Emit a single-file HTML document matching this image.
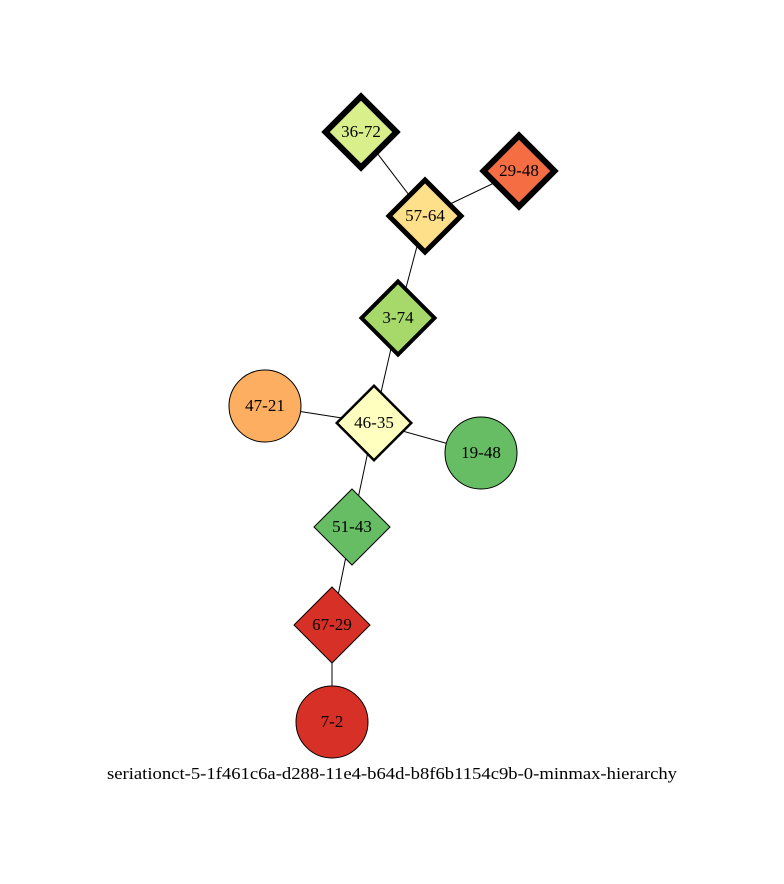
<!DOCTYPE html>
<html><head><meta charset="utf-8"><style>
html,body{margin:0;padding:0;background:#fff;width:784px;height:884px;overflow:hidden}
svg text{font-family:"Liberation Serif",serif;font-size:17px}
</style></head><body>
<svg id="g" width="784" height="884" viewBox="0 0 784 884">
<rect width="784" height="884" fill="#fff"/>
<g id="edges"></g><g id="nodes"></g>
<text x="107" y="779" textLength="570" lengthAdjust="spacingAndGlyphs">seriationct-5-1f461c6a-d288-11e4-b64d-b8f6b1154c9b-0-minmax-hierarchy</text>
</svg>
<script>
const nodeLabels=["36-72","29-48","57-64","3-74","47-21","46-35","19-48","51-43","67-29","7-2"];
const nodeX=[361,519,425,398,265,374,481,352,332,332];
const nodeY=[132,171,216,318,406,423,453,527,625,722];
const nodeShape=["d","d","d","d","c","d","c","d","d","c"];
const nodeFill=["#d9ef8b","#f46d43","#fee08b","#a6d96a","#fdae61","#ffffbf","#66bd63","#66bd63","#d73027","#d73027"];
const nodeStroke=[6,6,5,4,1,2.5,1,1,1,1];
const edgeList=[[0,2],[1,2],[2,3],[3,5],[4,5],[5,6],[5,7],[7,8],[8,9]];
const NS="http://www.w3.org/2000/svg";
const eg=document.getElementById('edges'),ng=document.getElementById('nodes');
edgeList.forEach(([a,b])=>{
 const l=document.createElementNS(NS,'line');
 
 
 l.setAttribute('x1',nodeX[a]);l.setAttribute('y1',nodeY[a]);
 l.setAttribute('x2',nodeX[b]);l.setAttribute('y2',nodeY[b]);
 l.setAttribute('stroke','#000');l.setAttribute('stroke-width','1');
 eg.appendChild(l);
});
nodeLabels.forEach((lab,i)=>{
 const g=document.createElementNS(NS,'g');
 
 
 let s;
 const x=nodeX[i],y=nodeY[i],sw=nodeStroke[i];
 if(nodeShape[i]==='c'){
  s=document.createElementNS(NS,'circle');
  s.setAttribute('cx',x);s.setAttribute('cy',y);s.setAttribute('r',36);
 }else{
  const h=38.5-sw/2;
  s=document.createElementNS(NS,'polygon');
  s.setAttribute('points',`${x},${y-h} ${x+h},${y} ${x},${y+h} ${x-h},${y}`);
  s.setAttribute('stroke-linejoin','miter');
 }
 s.setAttribute('fill',nodeFill[i]);s.setAttribute('stroke','#000');s.setAttribute('stroke-width',sw);
 g.appendChild(s);
 const t=document.createElementNS(NS,'text');
 t.setAttribute('x',x);t.setAttribute('y',y+5);t.setAttribute('text-anchor','middle');
 t.textContent=lab;
 g.appendChild(t);
 ng.appendChild(g);
});
</script>
</body></html>
